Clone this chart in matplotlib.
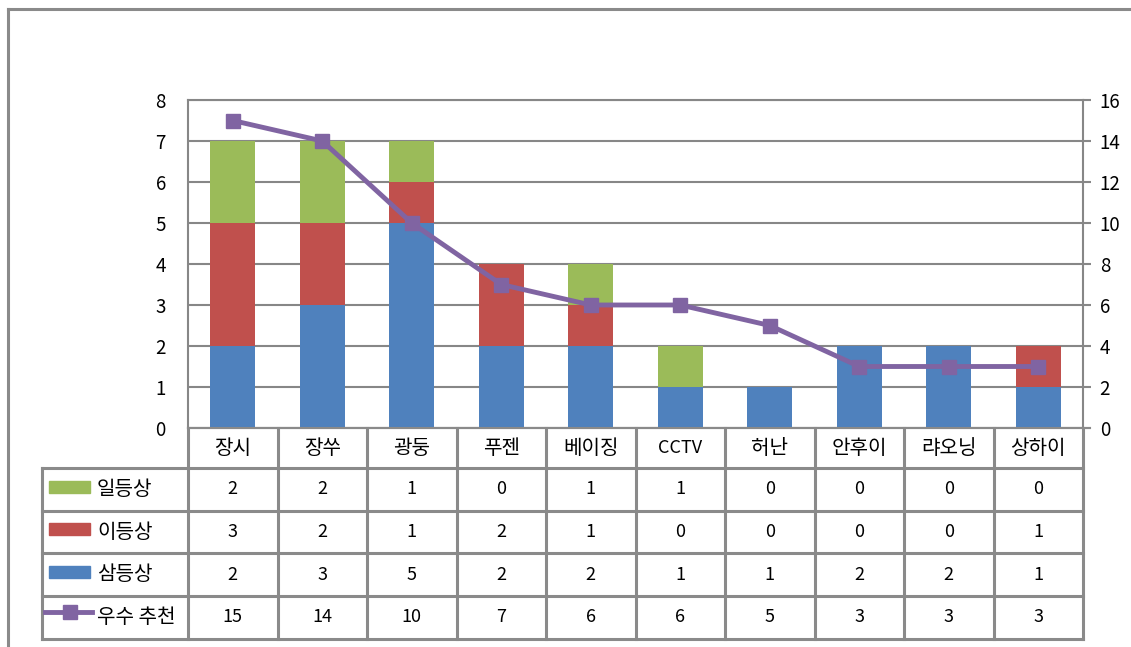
import numpy as np
import matplotlib.pyplot as plt
from matplotlib.patches import Rectangle
from matplotlib.lines import Line2D

plt.rcParams['font.family'] = ['Noto Sans CJK KR', 'DejaVu Sans']

cities = ['장시', '장쑤', '광둥', '푸젠', '베이징', 'CCTV', '허난', '안후이', '랴오닝', '상하이']
first = [2, 2, 1, 0, 1, 1, 0, 0, 0, 0]
second = [3, 2, 1, 2, 1, 0, 0, 0, 0, 1]
third = [2, 3, 5, 2, 2, 1, 1, 2, 2, 1]
recommend = [15, 14, 10, 7, 6, 6, 5, 3, 3, 3]

names = ['일등상', '이등상', '삼등상', '우수 추천']
c_green, c_red, c_blue, c_purple = '#9BBB59', '#C0504D', '#4F81BD', '#8064A2'
grid_c = '#878787'

W, H = 1131, 647
fig = plt.figure(figsize=(W / 100, H / 100), dpi=100)

# plot area in pixels
px0, px1, py0, py1 = 188, 1083, 100, 428
ax = fig.add_axes([px0 / W, 1 - py1 / H, (px1 - px0) / W, (py1 - py0) / H])
x = np.arange(len(cities))
ax.bar(x, third, 0.5, color=c_blue, zorder=3)
ax.bar(x, second, 0.5, bottom=third, color=c_red, zorder=3)
ax.bar(x, first, 0.5, bottom=np.array(third) + np.array(second), color=c_green, zorder=3)
ax.set_xlim(-0.5, len(cities) - 0.5)
ax.set_ylim(0, 8)
ax.set_yticks(range(0, 9))
ax.set_xticks([])
ax.yaxis.grid(True, color=grid_c, lw=1.5, zorder=0)
ax.tick_params(axis='y', length=0, pad=16, labelsize=13.5)
for s in ['left', 'top', 'right', 'bottom']:
    ax.spines[s].set_color(grid_c)
    ax.spines[s].set_linewidth(1.5)

ax2 = ax.twinx()
ax2.plot(x, recommend, color=c_purple, lw=3.5, marker='s', ms=10, zorder=5)
ax2.set_ylim(0, 16)
ax2.set_yticks(range(0, 17, 2))
ax2.tick_params(axis='y', length=6, width=1.5, color=grid_c, pad=6, labelsize=13.5)
for s in ['left', 'top', 'right', 'bottom']:
    ax2.spines[s].set_visible(False)

# data table below the plot
lx = 42
ty1 = 639
cw = (px1 - px0) / len(cities)
x0 = -0.5 - (px0 - lx) / cw
tax = fig.add_axes([lx / W, 1 - ty1 / H, (px1 - lx) / W, (ty1 - py1) / H])
tax.set_xlim(x0, len(cities) - 0.5)
tax.set_ylim(ty1, py1)
tax.axis('off')

rows = [428, 468, 511, 553, 596, 639]
tc = '#8a8a8a'
tlw = 2.2
# header row
tax.plot([-0.5, len(cities) - 0.5 + 7 / cw], [rows[0], rows[0]], color=tc, lw=1.5, clip_on=False)
for i, c in enumerate(cities):
    fs = 13 if c.isascii() else 14.5
    tax.text(i, (rows[0] + rows[1]) / 2, c, ha='center', va='center', fontsize=fs)
for r in rows[1:]:
    tax.plot([x0, len(cities) - 0.5], [r, r], color=tc, lw=tlw, clip_on=False)
for k in range(len(cities) + 1):
    tax.plot([k - 0.5, k - 0.5], [rows[0], rows[-1]], color=tc, lw=tlw, clip_on=False)
tax.plot([x0, x0], [rows[1], rows[-1]], color=tc, lw=tlw, clip_on=False)

series = [first, second, third, recommend]
colors = [c_green, c_red, c_blue, c_purple]
for j, (name, vals, col) in enumerate(zip(names, series, colors)):
    yc = (rows[j + 1] + rows[j + 2]) / 2
    for i, v in enumerate(vals):
        tax.text(i, yc, str(v), ha='center', va='center', fontsize=13)
    kx0 = x0 + 7 / cw
    if j < 3:
        tax.add_patch(Rectangle((kx0, yc - 9), 41 / cw, 12, color=col, clip_on=False))
    else:
        tax.plot([x0 + 3 / cw, x0 + 50 / cw], [yc - 6, yc - 6], color=col, lw=3.5, clip_on=False)
        tax.plot([x0 + 28 / cw], [yc - 6], marker='s', color=col, ms=10, clip_on=False)
    tax.text(x0 + 55 / cw, yc, name, ha='left', va='center', fontsize=14.5)

# outer frame
fig.add_artist(Line2D([8 / W, 1], [1 - 9 / H, 1 - 9 / H], color=tc, lw=2.2))
fig.add_artist(Line2D([8 / W, 8 / W], [1 - 9 / H, 0], color=tc, lw=2.2))

fig.savefig('out.png', dpi=100)
